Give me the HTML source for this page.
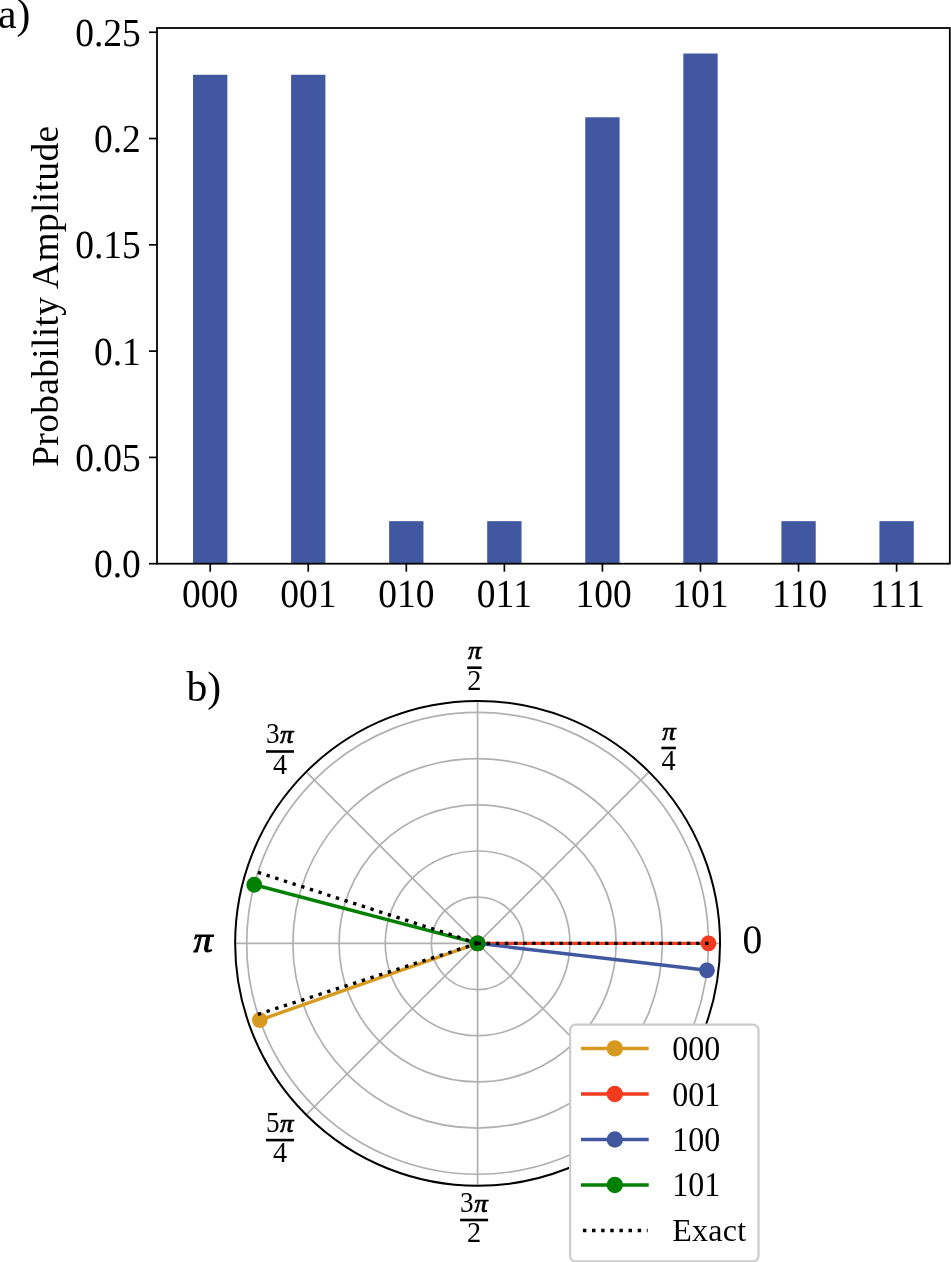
<!DOCTYPE html>
<html lang="en"><head><meta charset="utf-8"><title>Figure</title>
<style>html,body{margin:0;padding:0;background:#fff}svg{display:block}text{font-family:"Liberation Serif","Times New Roman",serif;fill:#000}.g{text-rendering:geometricPrecision}.i{font-style:italic;stroke:#000;stroke-width:.028em}</style></head><body>
<svg width="951" height="1262" viewBox="0 0 951 1262">
<rect width="951" height="1262" fill="#fff"/>
<rect x="193.04" y="74.77" width="34.32" height="488.93" fill="#4157a0"/>
<rect x="291.09" y="74.77" width="34.32" height="488.93" fill="#4157a0"/>
<rect x="389.15" y="521.18" width="34.32" height="42.52" fill="#4157a0"/>
<rect x="487.21" y="521.18" width="34.32" height="42.52" fill="#4157a0"/>
<rect x="585.27" y="117.28" width="34.32" height="446.42" fill="#4157a0"/>
<rect x="683.33" y="53.51" width="34.32" height="510.19" fill="#4157a0"/>
<rect x="781.39" y="521.18" width="34.32" height="42.52" fill="#4157a0"/>
<rect x="879.44" y="521.18" width="34.32" height="42.52" fill="#4157a0"/>
<rect x="157.00" y="28.00" width="792.80" height="535.70" fill="none" stroke="#000" stroke-width="1.8"/>
<line x1="210.20" y1="563.70" x2="210.20" y2="571.70" stroke="#000" stroke-width="1.7"/>
<text class="g" transform="translate(210.20 607) scale(1 1.06)" font-size="37.5" text-anchor="middle">000</text>
<line x1="308.25" y1="563.70" x2="308.25" y2="571.70" stroke="#000" stroke-width="1.7"/>
<text class="g" transform="translate(308.25 607) scale(1 1.06)" font-size="37.5" text-anchor="middle">001</text>
<line x1="406.31" y1="563.70" x2="406.31" y2="571.70" stroke="#000" stroke-width="1.7"/>
<text class="g" transform="translate(406.31 607) scale(1 1.06)" font-size="37.5" text-anchor="middle">010</text>
<line x1="504.37" y1="563.70" x2="504.37" y2="571.70" stroke="#000" stroke-width="1.7"/>
<text class="g" transform="translate(504.37 607) scale(1 1.06)" font-size="37.5" text-anchor="middle" dx="0 0 0.45">011</text>
<line x1="602.43" y1="563.70" x2="602.43" y2="571.70" stroke="#000" stroke-width="1.7"/>
<text class="g" transform="translate(603.63 607) scale(1 1.06)" font-size="37.5" text-anchor="middle">100</text>
<line x1="700.49" y1="563.70" x2="700.49" y2="571.70" stroke="#000" stroke-width="1.7"/>
<text class="g" transform="translate(700.49 607) scale(1 1.06)" font-size="37.5" text-anchor="middle">101</text>
<line x1="798.55" y1="563.70" x2="798.55" y2="571.70" stroke="#000" stroke-width="1.7"/>
<text class="g" transform="translate(799.55 607) scale(1 1.06)" font-size="37.5" text-anchor="middle" dx="0 0.45 0">110</text>
<line x1="896.60" y1="563.70" x2="896.60" y2="571.70" stroke="#000" stroke-width="1.7"/>
<text class="g" transform="translate(897.50 607) scale(1 1.06)" font-size="37.5" text-anchor="middle" dx="0 0.45 0.45">111</text>
<line x1="149.00" y1="563.70" x2="157.00" y2="563.70" stroke="#000" stroke-width="1.7"/>
<text class="g" transform="translate(140.80 577) scale(1 1.06)" font-size="37.5" text-anchor="end">0.0</text>
<line x1="149.00" y1="457.41" x2="157.00" y2="457.41" stroke="#000" stroke-width="1.7"/>
<text class="g" transform="translate(140.80 471) scale(1 1.06)" font-size="37.5" text-anchor="end">0.05</text>
<line x1="149.00" y1="351.12" x2="157.00" y2="351.12" stroke="#000" stroke-width="1.7"/>
<text class="g" transform="translate(140.80 365) scale(1 1.06)" font-size="37.5" text-anchor="end">0.1</text>
<line x1="149.00" y1="244.83" x2="157.00" y2="244.83" stroke="#000" stroke-width="1.7"/>
<text class="g" transform="translate(140.80 258) scale(1 1.06)" font-size="37.5" text-anchor="end">0.15</text>
<line x1="149.00" y1="138.54" x2="157.00" y2="138.54" stroke="#000" stroke-width="1.7"/>
<text class="g" transform="translate(140.80 152) scale(1 1.06)" font-size="37.5" text-anchor="end">0.2</text>
<line x1="149.00" y1="32.25" x2="157.00" y2="32.25" stroke="#000" stroke-width="1.7"/>
<text class="g" transform="translate(140.80 46) scale(1 1.06)" font-size="37.5" text-anchor="end">0.25</text>
<text transform="translate(58.4 296.2) rotate(-90)" font-size="37.5" text-anchor="middle" letter-spacing="0.33">Probability Amplitude</text>
<text x="-2" y="28" font-size="41.7">a)</text>
<circle cx="477.6" cy="943.35" r="46.18" fill="none" stroke="#b0b0b0" stroke-width="1.7"/>
<circle cx="477.6" cy="943.35" r="92.36" fill="none" stroke="#b0b0b0" stroke-width="1.7"/>
<circle cx="477.6" cy="943.35" r="138.54" fill="none" stroke="#b0b0b0" stroke-width="1.7"/>
<circle cx="477.6" cy="943.35" r="184.72" fill="none" stroke="#b0b0b0" stroke-width="1.7"/>
<circle cx="477.6" cy="943.35" r="230.90" fill="none" stroke="#b0b0b0" stroke-width="1.7"/>
<line x1="477.6" y1="943.35" x2="720.05" y2="943.35" stroke="#b0b0b0" stroke-width="1.7"/>
<line x1="477.6" y1="943.35" x2="649.04" y2="771.91" stroke="#b0b0b0" stroke-width="1.7"/>
<line x1="477.6" y1="943.35" x2="477.60" y2="700.90" stroke="#b0b0b0" stroke-width="1.7"/>
<line x1="477.6" y1="943.35" x2="306.16" y2="771.91" stroke="#b0b0b0" stroke-width="1.7"/>
<line x1="477.6" y1="943.35" x2="235.15" y2="943.35" stroke="#b0b0b0" stroke-width="1.7"/>
<line x1="477.6" y1="943.35" x2="306.16" y2="1114.79" stroke="#b0b0b0" stroke-width="1.7"/>
<line x1="477.6" y1="943.35" x2="477.60" y2="1185.80" stroke="#b0b0b0" stroke-width="1.7"/>
<line x1="477.6" y1="943.35" x2="649.04" y2="1114.79" stroke="#b0b0b0" stroke-width="1.7"/>
<line x1="477.6" y1="943.35" x2="259.81" y2="1020.05" stroke="#d69a21" stroke-width="3.4"/>
<circle cx="477.6" cy="943.35" r="7.9" fill="#d69a21"/>
<circle cx="259.81" cy="1020.05" r="7.9" fill="#d69a21"/>
<line x1="477.6" y1="943.35" x2="708.50" y2="943.35" stroke="#f03b20" stroke-width="3.4"/>
<circle cx="477.6" cy="943.35" r="7.9" fill="#f03b20"/>
<circle cx="708.50" cy="943.35" r="7.9" fill="#f03b20"/>
<line x1="477.6" y1="943.35" x2="706.93" y2="970.29" stroke="#4157a0" stroke-width="3.4"/>
<circle cx="477.6" cy="943.35" r="7.9" fill="#4157a0"/>
<circle cx="706.93" cy="970.29" r="7.9" fill="#4157a0"/>
<line x1="477.6" y1="943.35" x2="254.25" y2="884.76" stroke="#008000" stroke-width="3.4"/>
<circle cx="477.6" cy="943.35" r="7.9" fill="#008000"/>
<circle cx="254.25" cy="884.76" r="7.9" fill="#008000"/>
<line x1="477.6" y1="943.35" x2="708.50" y2="943.35" stroke="#000" stroke-width="3.4" stroke-dasharray="3.4 5.7"/>
<line x1="477.6" y1="943.35" x2="257.88" y2="872.36" stroke="#000" stroke-width="3.4" stroke-dasharray="3.4 5.7"/>
<line x1="477.6" y1="943.35" x2="257.88" y2="1014.34" stroke="#000" stroke-width="3.4" stroke-dasharray="3.4 5.7"/>
<circle cx="477.6" cy="943.35" r="242.45" fill="none" stroke="#000" stroke-width="2"/>
<text class="g" transform="translate(752.3 953) scale(1 1.02)" font-size="39.6" text-anchor="middle">0</text>
<text transform="translate(193.60 952.40) scale(1 .93)" font-size="38.5" class="i">π</text>
<text transform="translate(468.00 659.40) scale(1 .93)" font-size="26.9" class="i">π</text>
<rect x="467.15" y="666.40" width="14.5" height="2.6" fill="#000"/>
<text transform="translate(474.4 690) scale(1 1.035)" font-size="28.3" text-anchor="middle">2</text>
<text transform="translate(265.90 743.20) scale(.96 1.035)" font-size="28.3">3</text>
<text transform="translate(280.10 743.20) scale(1 .93)" font-size="26.9" class="i">π</text>
<rect x="266.00" y="750.20" width="28" height="2.6" fill="#000"/>
<text transform="translate(280 774) scale(1 1.035)" font-size="28.3" text-anchor="middle">4</text>
<text transform="translate(662.20 739.70) scale(1 .93)" font-size="26.9" class="i">π</text>
<rect x="661.35" y="746.70" width="14.5" height="2.6" fill="#000"/>
<text transform="translate(668.6 770) scale(1 1.035)" font-size="28.3" text-anchor="middle">4</text>
<text transform="translate(265.90 1131.80) scale(.96 1.035)" font-size="28.3">5</text>
<text transform="translate(280.10 1131.80) scale(1 .93)" font-size="26.9" class="i">π</text>
<rect x="266.00" y="1138.80" width="28" height="2.6" fill="#000"/>
<text transform="translate(280 1162) scale(1 1.035)" font-size="28.3" text-anchor="middle">4</text>
<text transform="translate(460.00 1211.70) scale(.96 1.035)" font-size="28.3">3</text>
<text transform="translate(474.20 1211.70) scale(1 .93)" font-size="26.9" class="i">π</text>
<rect x="460.10" y="1218.70" width="28" height="2.6" fill="#000"/>
<text transform="translate(474.1 1242) scale(1 1.035)" font-size="28.3" text-anchor="middle">2</text>
<text x="186.5" y="701.2" font-size="41.7">b)</text>
<rect x="570.1" y="1024.6" width="188.4" height="236.8" rx="5.5" fill="#fff" stroke="#ccc" stroke-width="2.2"/>
<line x1="581" y1="1048.4" x2="648.7" y2="1048.4" stroke="#d69a21" stroke-width="3.5"/>
<circle cx="614.8" cy="1048.4" r="8.2" fill="#d69a21"/>
<text class="g" transform="translate(672.3 1060) scale(1 1.08)" font-size="32">000</text>
<line x1="581" y1="1094" x2="648.7" y2="1094" stroke="#f03b20" stroke-width="3.5"/>
<circle cx="614.8" cy="1094" r="8.2" fill="#f03b20"/>
<text class="g" transform="translate(672.3 1106) scale(1 1.08)" font-size="32">001</text>
<line x1="581" y1="1139.5" x2="648.7" y2="1139.5" stroke="#4157a0" stroke-width="3.5"/>
<circle cx="614.8" cy="1139.5" r="8.2" fill="#4157a0"/>
<text class="g" transform="translate(672.3 1151) scale(1 1.08)" font-size="32">100</text>
<line x1="581" y1="1185" x2="648.7" y2="1185" stroke="#008000" stroke-width="3.5"/>
<circle cx="614.8" cy="1185" r="8.2" fill="#008000"/>
<text class="g" transform="translate(672.3 1196) scale(1 1.08)" font-size="32">101</text>
<line x1="582.9" y1="1230.4" x2="647.7" y2="1230.4" stroke="#000" stroke-width="3.5" stroke-dasharray="3.45 5.68"/>
<text x="672.3" y="1241" font-size="32" letter-spacing="0.25">Exact</text>
</svg></body></html>
